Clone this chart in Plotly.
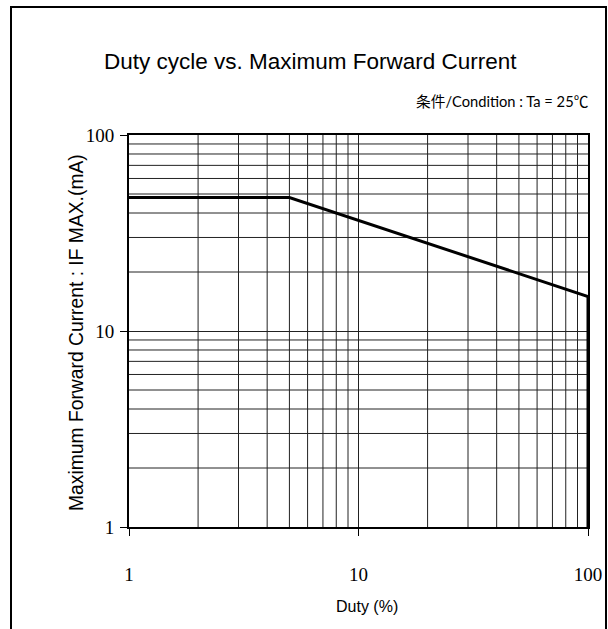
import plotly.graph_objects as go

# Data
duty = [1, 5, 100, 100]
if_max = [48, 48, 15, 1]
x_ticks = [1, 10, 100]
y_ticks = [1, 10, 100]
grid_vals = [2, 3, 4, 5, 6, 7, 8, 9, 20, 30, 40, 50, 60, 70, 80, 90]

W, H = 608, 629
L, R, T, B = 129, 588, 135, 527
pw, ph = R - L, B - T

def px(x):
    return (x - L) / pw

def py(y):
    return (B - y) / ph

fig = go.Figure()
fig.add_trace(go.Scatter(x=duty, y=if_max, mode="lines",
                         line=dict(color="black", width=3), showlegend=False,
                         hoverinfo="skip"))

shapes = []
for g in grid_vals:
    shapes.append(dict(type="line", xref="x", yref="paper", x0=g, x1=g, y0=0, y1=1,
                       line=dict(color="#222", width=1), layer="below"))
    shapes.append(dict(type="line", xref="paper", yref="y", x0=0, x1=1, y0=g, y1=g,
                       line=dict(color="#222", width=1), layer="below"))
# frame
shapes.append(dict(type="rect", xref="paper", yref="paper",
                   x0=px(11), x1=px(606), y0=py(632), y1=py(7),
                   line=dict(color="black", width=2)))

fig.update_layout(
    width=W, height=H,
    margin=dict(l=L, r=W - R, t=T, b=H - B, autoexpand=False),
    paper_bgcolor="white", plot_bgcolor="white",
    shapes=shapes,
    annotations=[
        dict(text="Duty cycle vs. Maximum Forward Current", x=px(310), y=py(62),
             xref="paper", yref="paper", showarrow=False, xanchor="center", yanchor="middle",
             font=dict(family="Liberation Sans", size=22.5, color="black")),
        dict(text="条件/Condition : Ta = 25℃", x=px(591), y=py(101),
             xref="paper", yref="paper", showarrow=False, xanchor="right", yanchor="middle",
             font=dict(family="Lato, Noto Sans CJK KR", size=14.7, color="black")),
        dict(text="Maximum Forward Current : IF MAX.(mA)", x=px(76), y=py(333),
             xref="paper", yref="paper", showarrow=False, textangle=-90,
             xanchor="center", yanchor="middle",
             font=dict(family="Liberation Sans", size=19.3, color="black")),
        dict(text="Duty (%)", x=px(367), y=py(606),
             xref="paper", yref="paper", showarrow=False, xanchor="center", yanchor="middle",
             font=dict(family="Liberation Sans", size=16, color="black")),
    ],
)
fig.update_xaxes(type="log", range=[0, 2], tickvals=x_ticks, ticktext=[str(v) for v in x_ticks],
                 automargin=False,
                 showgrid=True, gridcolor="#222", gridwidth=1,
                 showline=True, linecolor="black", linewidth=2, mirror=True,
                 ticks="outside", ticklen=7, tickcolor="black",
                 ticklabelstandoff=22,
                 tickfont=dict(family="Liberation Serif", size=19, color="black"),
                 zeroline=False)
fig.update_yaxes(type="log", range=[0, 2], tickvals=y_ticks, ticktext=[str(v) for v in y_ticks],
                 automargin=False,
                 showgrid=True, gridcolor="#222", gridwidth=1,
                 showline=True, linecolor="black", linewidth=2, mirror=True,
                 ticks="outside", ticklen=7, tickcolor="black",
                 ticklabelstandoff=2,
                 tickfont=dict(family="Liberation Serif", size=19, color="black"),
                 zeroline=False)

fig.write_html("out.html", config={"displayModeBar": False},
               post_script="document.body.style.margin='0';document.body.style.overflow='hidden';document.documentElement.style.overflow='hidden';")
